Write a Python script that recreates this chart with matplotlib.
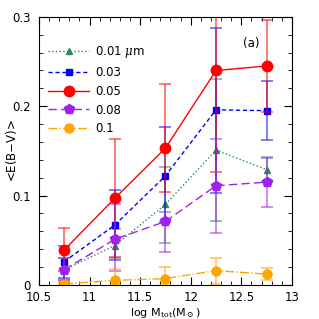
import matplotlib
matplotlib.use("Agg")
import matplotlib.pyplot as plt
import numpy as np
from matplotlib.ticker import MultipleLocator

# log halo mass bins
log_mass = [10.75, 11.25, 11.75, 12.25, 12.75]

labels = ["0.01 $\\mu$m", "0.03", "0.05", "0.08", "0.1"]

# mean E(B-V) and the lower / upper ends of the error bars
ebv_001 = [0.017, 0.044, 0.090, 0.151, 0.129]
lo_001 = [0.006, 0.030, 0.047, 0.071, 0.115]
hi_001 = [0.030, 0.062, 0.132, 0.230, 0.143]

ebv_003 = [0.026, 0.067, 0.122, 0.196, 0.195]
lo_003 = [0.008, 0.028, 0.070, 0.103, 0.162]
hi_003 = [0.044, 0.106, 0.177, 0.288, 0.228]

ebv_005 = [0.039, 0.097, 0.153, 0.240, 0.245]
lo_005 = [0.015, 0.031, 0.104, 0.126, 0.194]
hi_005 = [0.064, 0.163, 0.225, 0.360, 0.296]

ebv_008 = [0.017, 0.051, 0.071, 0.111, 0.115]
lo_008 = [0.005, 0.015, 0.037, 0.058, 0.087]
hi_008 = [0.030, 0.090, 0.082, 0.163, 0.142]

ebv_01 = [0.001, 0.005, 0.007, 0.016, 0.012]
lo_01 = [0.000, 0.000, 0.000, 0.001, 0.006]
hi_01 = [0.003, 0.018, 0.020, 0.030, 0.019]

series = [
    (ebv_001, lo_001, hi_001, "#2e8b57", ":", "^", 5),
    (ebv_003, lo_003, hi_003, "#0000ff", (0, (3, 2)), "s", 5),
    (ebv_005, lo_005, hi_005, "#ff0000", "-", "o", 7.5),
    (ebv_008, lo_008, hi_008, "#a020f0", (0, (6, 3)), "p", 7),
    (ebv_01, lo_01, hi_01, "#ffa500", "-.", "o", 6.5),
]

plt.rcParams["font.size"] = 8.5
plt.rcParams["mathtext.fontset"] = "dejavuserif"

fig = plt.figure(figsize=(3.19, 3.19), dpi=100)
ax = fig.add_axes([0.122, 0.107, 0.793, 0.840])

for (y, lo, hi, col, ls, mk, ms), lab in zip(series, labels):
    y = np.array(y)
    yerr = [y - np.array(lo), np.array(hi) - y]
    ax.errorbar(log_mass, y, yerr=yerr, fmt="none", ecolor=col, alpha=0.6,
                elinewidth=1.2, capsize=4.5, capthick=1.2)
    ax.plot(log_mass, y, color=col, linestyle=ls, marker=mk, markersize=ms,
            linewidth=1.0, label=lab)

ax.set_xlim(10.5, 13)
ax.set_ylim(0, 0.3)
ax.xaxis.set_minor_locator(MultipleLocator(0.1))
ax.yaxis.set_minor_locator(MultipleLocator(0.02))
ax.set_xticks([10.5, 11, 11.5, 12, 12.5, 13])
ax.set_xticklabels(["10.5", "11", "11.5", "12", "12.5", "13"])
ax.set_yticks([0, 0.1, 0.2, 0.3])
ax.set_yticklabels(["0", "0.1", "0.2", "0.3"])
ax.tick_params(which="both", direction="in", top=True, right=True)
ax.tick_params(which="major", length=6, width=0.8)
ax.tick_params(which="minor", length=3, width=0.6)
ax.tick_params(axis="x", which="major", pad=4.5)
ax.tick_params(axis="y", which="major", pad=6)

ax.set_xlabel(r"log M$_{\rm tot}$(M$_\odot$)", fontsize=8)
ax.xaxis.set_label_coords(0.5, -0.08)
ax.set_ylabel("<E(B$-$V)>")
ax.yaxis.set_label_coords(-0.08, 0.5)
ax.text(12.6, 0.27, "(a)", ha="center", va="center")

ax.legend(loc="upper left", frameon=False, handlelength=3.5,
          handletextpad=0.5, borderaxespad=0, labelspacing=0.5,
          bbox_to_anchor=(0.017, 0.917))

fig.savefig("out.png", dpi=100)
